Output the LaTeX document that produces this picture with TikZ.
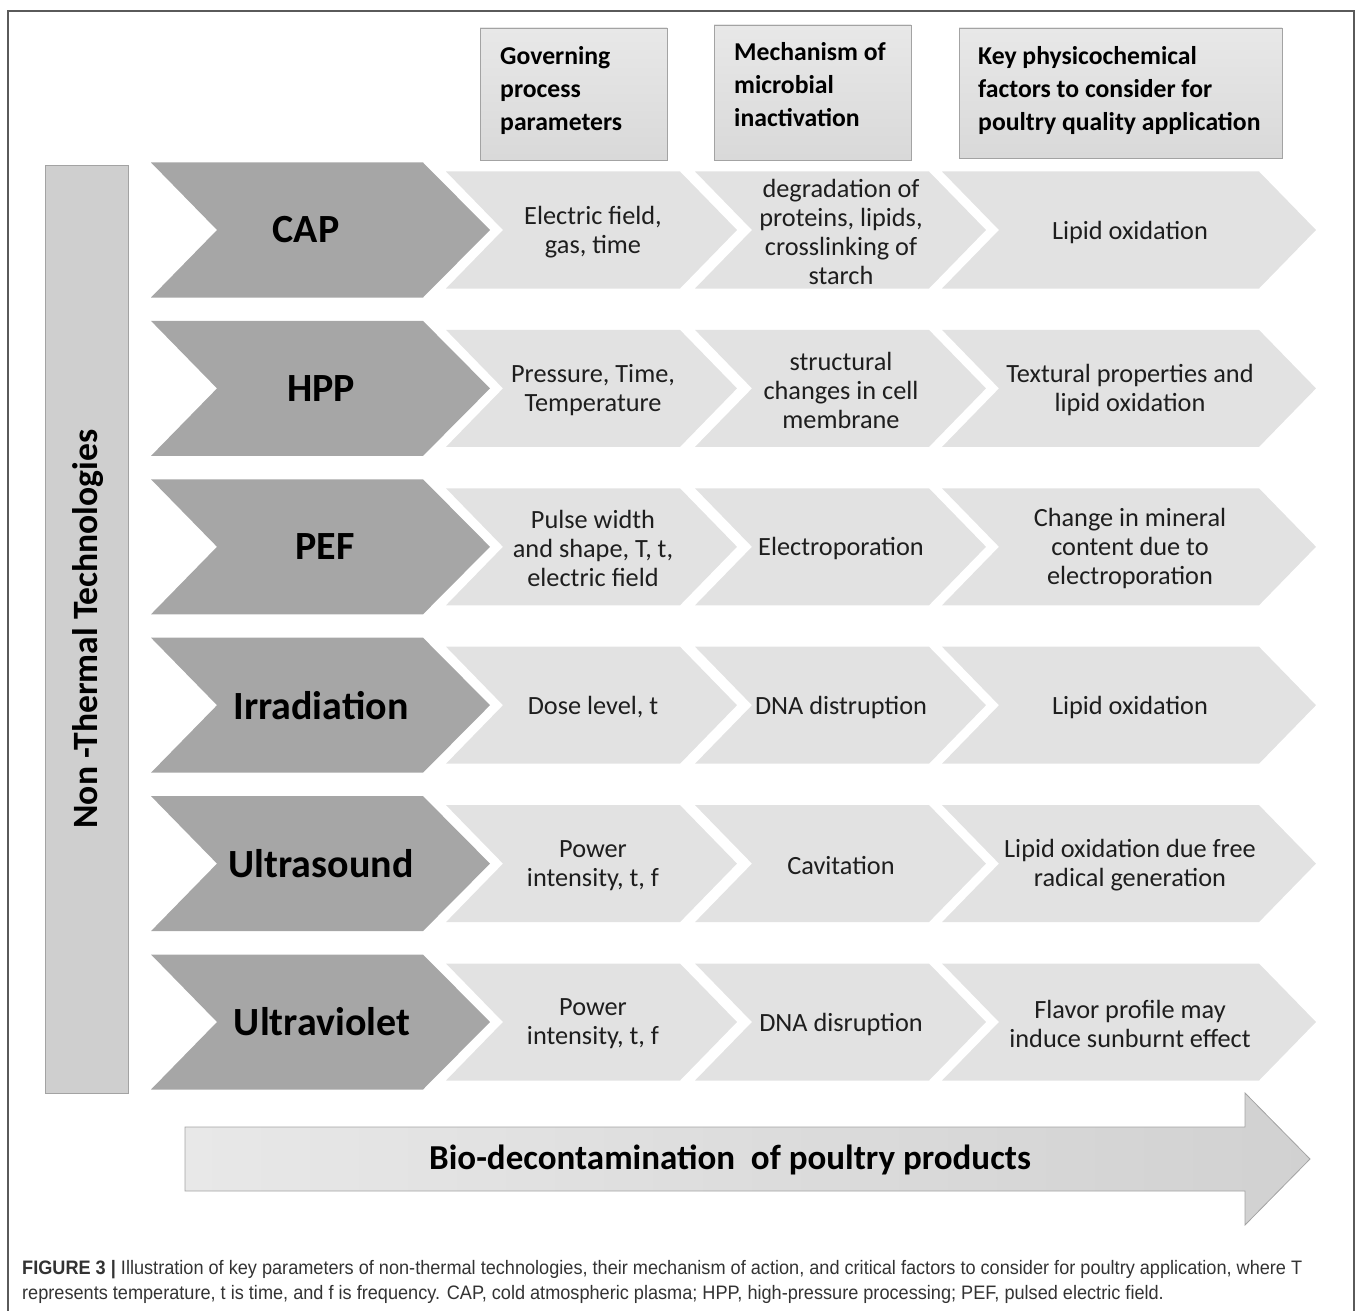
\documentclass[tikz,border=0pt]{standalone}
\usepackage{fontspec}
\setmainfont{Carlito}
\newfontfamily\capfont[FakeStretch=0.93]{Liberation Sans}
\usetikzlibrary{positioning}

\definecolor{darkchev}{HTML}{A6A6A6}
\definecolor{lightchev}{HTML}{E2E2E2}
\definecolor{barfill}{HTML}{CFCFCF}
\definecolor{edgegray}{HTML}{A3A3A3}
\definecolor{framegray}{HTML}{5A5A5A}
\definecolor{inkgray}{HTML}{1E1E1E}

\tikzset{
    techlabel/.style={font=\fontsize{40}{44}\selectfont\bfseries, inner sep=0pt},
    celltext/.style={font=\fontsize{26.3}{29}\selectfont, align=center, text=inkgray, inner sep=0pt, yshift=-2pt},
    headtext/.style={font=\fontsize{25.7}{33}\selectfont\bfseries, align=left, anchor=north west, inner sep=0pt},
    headbox/.style={top color=gray!18, bottom color=gray!30, draw=edgegray, line width=0.8pt},
}

\begin{document}
\begin{tikzpicture}[x=1pt,y=-1pt]
    \useasboundingbox (0,0) rectangle (1358,1311);
    \draw[framegray, line width=1.5pt] (8,1311) -- (8,11) -- (1354,11) -- (1354,1311);

    % column headers
    \shade[headbox] (480,28) rectangle (667,160);
    \shade[headbox] (714,25) rectangle (911,160);
    \shade[headbox] (959,28) rectangle (1282,158);
    \node[headtext] (hgov) at (500,46) {Governing\\process\\parameters};
    \node[headtext] (hmech) at (734,42) {Mechanism of\\microbial\\inactivation};
    \node[headtext] (hkey) at (978,46) {Key physicochemical\\factors to consider for\\poultry quality application};

    % side bar
    \filldraw[fill=barfill, draw=edgegray, line width=0.8pt] (45,165) rectangle (128,1093);
    \node[rotate=90, font=\fontsize{35.6}{40}\selectfont\bfseries, inner sep=0pt] (ntt) at (88,629) {Non -Thermal Technologies};

    % rows of chevrons
    \foreach \y/\tech/\tx/\prm/\mech/\fct [count=\i] in {
        230/CAP/306/{Electric field,\\gas, time}/{degradation of\\proteins, lipids,\\crosslinking of\\starch}/{Lipid oxidation},
        388.4/HPP/321/{Pressure, Time,\\Temperature}/{structural\\changes in cell\\membrane}/{Textural properties and\\lipid oxidation},
        546.8/PEF/325/{Pulse width\\and shape, T, t,\\electric field}/{Electroporation}/{Change in mineral\\content due to\\electroporation},
        705.2/Irradiation/321/{Dose level, t}/{DNA distruption}/{Lipid oxidation},
        863.6/Ultrasound/321/{Power\\intensity, t, f}/{Cavitation}/{Lipid oxidation due free\\radical generation},
        1022/Ultraviolet/322/{Power\\intensity, t, f}/{DNA disruption}/{Flavor profile may\\induce sunburnt effect}} {
        \fill[darkchev] (151,\y-67.5) -- (423,\y-67.5) -- (490,\y) -- (423,\y+67.5) -- (151,\y+67.5) -- (217,\y) -- cycle;
        \foreach \l/\r in {446/680, 695/929, 942/1259}
            \fill[lightchev] (\l,\y-58.5) -- (\r,\y-58.5) -- (\r+57,\y) -- (\r,\y+58.5) -- (\l,\y+58.5) -- (\l+57,\y) -- cycle;
        \node[techlabel] (tech\i) at (\tx,\y) {\tech};
        \node[celltext] (prm\i) at (593,\y) {\prm};
        \node[celltext] (mech\i) at (841,\y) {\mech};
        \node[celltext] (fct\i) at (1130,\y) {\fct};
    }

    % bottom arrow
    \shade[left color=gray!18, right color=gray!36, draw=edgegray, line width=0.8pt]
        (185,1127) -- (1245,1127) -- (1245,1093) -- (1310,1159) -- (1245,1225) -- (1245,1191) -- (185,1191) -- cycle;
    \node[font=\fontsize{35}{40}\selectfont\bfseries, inner sep=0pt] (bio) at (730,1160) {Bio-decontamination\ \ of poultry products};

    % caption
    \node[anchor=north west, inner sep=0pt, align=left, text=black!80, font=\capfont\fontsize{19.5}{25}\selectfont] (caption) at (22,1260.5)
        {\textbf{FIGURE 3 |} Illustration of key parameters of non-thermal technologies, their mechanism of action, and critical factors to consider for poultry application, where T\\
        represents temperature, t is time, and f is frequency. CAP, cold atmospheric plasma; HPP, high-pressure processing; PEF, pulsed electric field.};
\end{tikzpicture}
\end{document}
